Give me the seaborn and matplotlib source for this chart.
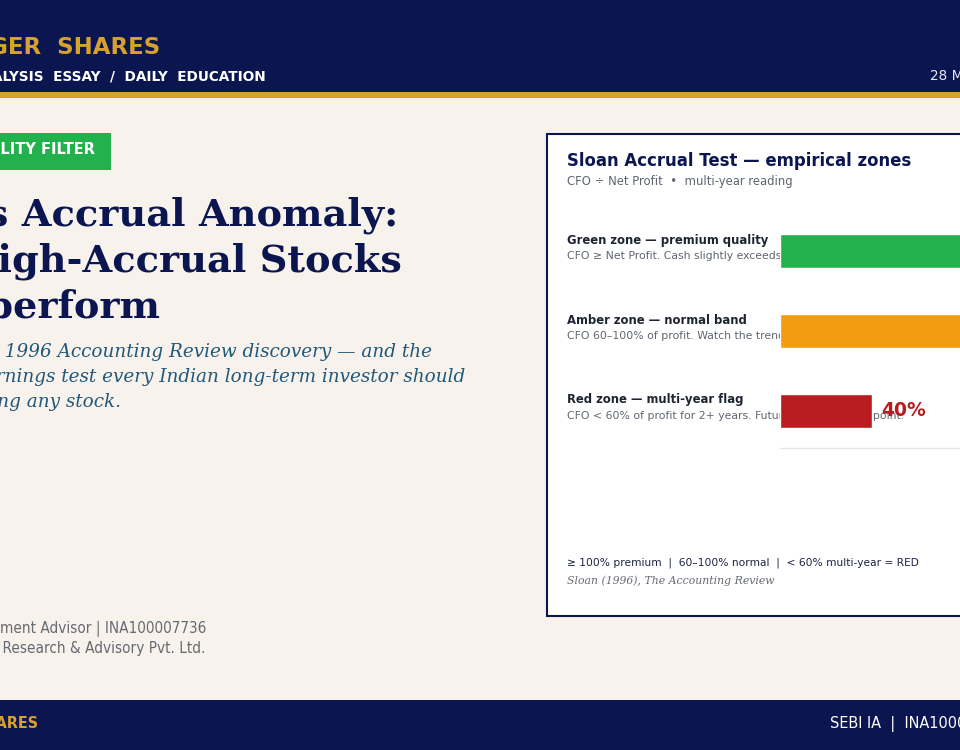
import matplotlib
matplotlib.use("Agg")
import matplotlib.pyplot as plt
import matplotlib.patches as mpatches
import seaborn as sns
import pandas as pd

# data
zones = ["Green zone", "Amber zone", "Red zone"]
cfo_pct = [120, 80, 40]
zone_colors = ["#22b14c", "#f39c12", "#b81c1f"]
zone_titles = ["Green zone — premium quality", "Amber zone — normal band", "Red zone — multi-year flag"]
zone_notes = ["CFO ≥ Net Profit. Cash slightly exceeds reported profit.",
              "CFO 60–100% of profit. Watch the trend.",
              "CFO < 60% of profit for 2+ years. Future earnings disappoint."]

NAVY = "#0b1650"
GOLD = "#d6a12c"
CREAM = "#f7f2ec"

sns.set_theme(style="white")
plt.rcParams['font.family'] = ['DejaVu Sans']

W, H = 960, 750
fig = plt.figure(figsize=(9.6, 7.5), dpi=100, facecolor=CREAM)


def fx(x):
    return x / W


def fy(y):
    return 1 - y / H


def rect(x0, y0, x1, y1, **kw):
    fig.add_artist(mpatches.Rectangle((fx(x0), fy(y1)), fx(x1) - fx(x0), fy(y0) - fy(y1),
                                      transform=fig.transFigure, **kw))


def txt(x, y, s, **kw):
    kw.setdefault("va", "center")
    fig.text(fx(x), fy(y), s, **kw)


# header / footer bands
rect(-10, -10, 1000, 93, facecolor=NAVY, edgecolor="none")
rect(-10, 92, 1000, 98, facecolor=GOLD, edgecolor="none")
rect(-10, 700, 1000, 760, facecolor=NAVY, edgecolor="none")

txt(160, 47, "TIGER  SHARES", ha="right", color=GOLD, fontsize=16.5, fontweight="bold")
txt(266, 76, "ANALYSIS  ESSAY  /  DAILY  EDUCATION", ha="right", color="white",
    fontsize=9.8, fontweight="bold")
txt(930, 76, "28 MAR 2025", ha="left", color="#e6e8f0", fontsize=9.8)

# badge
rect(-10, 133, 111, 170, facecolor="#22b14c", edgecolor="none")
txt(95, 149, "QUALITY FILTER", ha="right", color="white", fontsize=10.5, fontweight="bold")

# headline
title_lines = ["Sloan's Accrual Anomaly:", "Why High-Accrual Stocks", "Underperform"]
title_ends = [398, 402, 161]
for i, (s, xe) in enumerate(zip(title_lines, title_ends)):
    txt(xe, 215 + 46 * i, s, ha="right", color=NAVY, fontsize=27.5,
        fontweight="bold", family="DejaVu Serif")

sub_lines = ["Sloan's 1996 Accounting Review discovery — and the",
             "earnings test every Indian long-term investor should",
             "run before buying any stock."]
sub_ends = [432, 465, 121]
for i, (s, xe) in enumerate(zip(sub_lines, sub_ends)):
    txt(xe, 352 + 25 * i, s, ha="right", color="#22587a", fontsize=13.2,
        style="italic", family="DejaVu Serif")

txt(206, 629, "SEBI Registered Investment Advisor | INA100007736", ha="right",
    color="#666a72", fontsize=11, fontstretch="condensed")
txt(205, 648, "Tiger Shares Research & Advisory Pvt. Ltd.", ha="right",
    color="#666a72", fontsize=11, fontstretch="condensed")

txt(38, 724, "TIGER SHARES", ha="right", color=GOLD, fontsize=11.5, fontweight="bold",
    fontstretch="condensed")
txt(830, 724, "SEBI IA  |  INA100007736", ha="left", color="white", fontsize=11.6,
    fontstretch="condensed")

# card
rect(547, 134, 1010, 616, facecolor="white", edgecolor=NAVY, linewidth=1.5)
txt(567, 161, "Sloan Accrual Test — empirical zones", color=NAVY, fontsize=11.9,
    fontweight="bold")
txt(567, 182, "CFO ÷ Net Profit  •  multi-year reading", color="#5f6670", fontsize=8.4)

for i, (t, n) in enumerate(zip(zone_titles, zone_notes)):
    txt(567, 240 + 80 * i, t, color="#1f2530", fontsize=8.4, fontweight="bold")
    txt(567, 256 + 80 * i, n, color="#5f6670", fontsize=7.8)

txt(567, 563, "≥ 100% premium  |  60–100% normal  |  < 60% multi-year = RED",
    color="#1c2340", fontsize=7.7)
txt(567, 581, "Sloan (1996), The Accounting Review", color="#666a72", fontsize=7.8,
    style="italic", family="DejaVu Serif")

# bar chart
df = pd.DataFrame({"zone": zones, "cfo": cfo_pct})
ax_left, ax_right = 780, 1079
ax_top, ax_bot = 211, 448
ax = fig.add_axes([fx(ax_left), fy(ax_bot), fx(ax_right) - fx(ax_left), fy(ax_top) - fy(ax_bot)])
ax.set_zorder(5)
ax.patch.set_alpha(0)
sns.barplot(data=df, x="cfo", y="zone", hue="zone", palette=zone_colors, legend=False,
            width=0.42, orient="h", ax=ax, saturation=1)
ax.set_xlim(0, 130)
ax.set_ylim(2.4625, -0.5)
ax.set_xlabel("")
ax.set_ylabel("")
ax.set_xticks([])
ax.set_yticks([])
for s in ["top", "right", "left"]:
    ax.spines[s].set_visible(False)
ax.spines["bottom"].set_color("#e6e6e6")
ax.spines["bottom"].set_linewidth(1)
for i, v in enumerate(cfo_pct):
    ax.text(v + 3.9, i, f"{v}%", va="center", ha="left", color=zone_colors[i],
            fontsize=13.5, fontweight="bold", clip_on=False)

fig.savefig("out.png", dpi=100, facecolor=CREAM)
